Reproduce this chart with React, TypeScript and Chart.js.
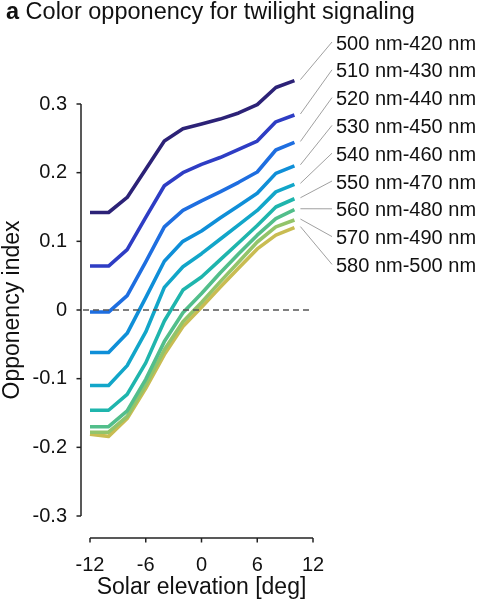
import React, { useEffect, useRef } from "react";
import { Chart, registerables } from "chart.js";

Chart.register(...registerables);

// ---------- data ----------
const elevations = [-12, -10, -8, -6, -4, -2, 0, 2, 4, 6, 8, 10];

const seriesLabels = [
  "500 nm-420 nm",
  "510 nm-430 nm",
  "520 nm-440 nm",
  "530 nm-450 nm",
  "540 nm-460 nm",
  "550 nm-470 nm",
  "560 nm-480 nm",
  "570 nm-490 nm",
  "580 nm-500 nm",
];

const s500_420 = [0.142, 0.142, 0.164, 0.205, 0.246, 0.264, 0.271, 0.278, 0.287, 0.299, 0.324, 0.334];
const s510_430 = [0.064, 0.064, 0.088, 0.135, 0.181, 0.2, 0.212, 0.222, 0.234, 0.246, 0.274, 0.284];
const s520_440 = [-0.003, -0.003, 0.021, 0.07, 0.121, 0.145, 0.159, 0.172, 0.186, 0.201, 0.233, 0.244];
const s530_450 = [-0.062, -0.062, -0.034, 0.018, 0.071, 0.1, 0.115, 0.134, 0.152, 0.17, 0.199, 0.21];
const s540_460 = [-0.11, -0.11, -0.081, -0.032, 0.033, 0.063, 0.082, 0.103, 0.124, 0.145, 0.172, 0.183];
const s550_470 = [-0.146, -0.146, -0.123, -0.077, -0.016, 0.029, 0.048, 0.073, 0.098, 0.123, 0.15, 0.162];
const s560_480 = [-0.17, -0.17, -0.147, -0.101, -0.046, -0.004, 0.024, 0.054, 0.082, 0.109, 0.133, 0.146];
const s570_490 = [-0.178, -0.178, -0.155, -0.109, -0.058, -0.017, 0.011, 0.041, 0.07, 0.099, 0.121, 0.131];
const s580_500 = [-0.181, -0.184, -0.158, -0.114, -0.065, -0.024, 0.004, 0.033, 0.061, 0.089, 0.109, 0.12];

const seriesValues = [
  s500_420, s510_430, s520_440, s530_450, s540_460,
  s550_470, s560_480, s570_490, s580_500,
];

const seriesColors = [
  "#2c2277", "#2e3dc4", "#1e6ee0", "#0f8fd8", "#12a6c9",
  "#1fb5ad", "#52be8b", "#93c46a", "#c9bc52",
];

const xTickValues = [-12, -6, 0, 6, 12];
const xTickLabels = ["-12", "-6", "0", "6", "12"];
const yTickValues = [0.3, 0.2, 0.1, 0, -0.1, -0.2, -0.3];
const yTickLabels = ["0.3", "0.2", "0.1", "0", "-0.1", "-0.2", "-0.3"];

const titleBold = "a";
const titleText = "Color opponency for twilight signaling";
const xAxisTitle = "Solar elevation [deg]";
const yAxisTitle = "Opponency index";

const FONT = "'Liberation Sans', Arial, Helvetica, sans-serif";

const overlayPlugin = {
  id: "overlay",
  afterDraw(chart: any) {
    const { ctx, chartArea, scales } = chart;
    const xs = scales.x;
    const ys = scales.y;
    ctx.save();

    // y axis line (offset left of the data area)
    const axX = chartArea.left - 9;
    ctx.strokeStyle = "#222";
    ctx.lineWidth = 1.5;
    ctx.beginPath();
    ctx.moveTo(axX, ys.getPixelForValue(yTickValues[0]));
    ctx.lineTo(axX, ys.getPixelForValue(yTickValues[yTickValues.length - 1]));
    ctx.stroke();
    yTickValues.forEach((v) => {
      const py = ys.getPixelForValue(v);
      ctx.beginPath();
      ctx.moveTo(axX - 4.5, py);
      ctx.lineTo(axX, py);
      ctx.stroke();
    });

    // x axis line (offset below the data area)
    const axY = chartArea.bottom + 22;
    ctx.beginPath();
    ctx.moveTo(xs.getPixelForValue(xTickValues[0]), axY);
    ctx.lineTo(xs.getPixelForValue(xTickValues[xTickValues.length - 1]), axY);
    ctx.stroke();
    xTickValues.forEach((v) => {
      const px = xs.getPixelForValue(v);
      ctx.beginPath();
      ctx.moveTo(px, axY);
      ctx.lineTo(px, axY + 4.5);
      ctx.stroke();
    });

    // dashed zero line
    ctx.strokeStyle = "#555";
    ctx.lineWidth = 1.3;
    ctx.setLineDash([6, 4]);
    ctx.beginPath();
    ctx.moveTo(axX + 2, ys.getPixelForValue(0));
    ctx.lineTo(xs.getPixelForValue(xTickValues[xTickValues.length - 1]), ys.getPixelForValue(0));
    ctx.stroke();
    ctx.setLineDash([]);

    // title
    ctx.fillStyle = "#111";
    ctx.textBaseline = "alphabetic";
    ctx.textAlign = "left";
    ctx.font = `bold 23.5px ${FONT}`;
    ctx.fillText(titleBold, 6, 19);
    const bw = ctx.measureText(titleBold + " ").width;
    ctx.font = `23.5px ${FONT}`;
    ctx.fillText(titleText, 6 + bw, 19);

    // series labels with leader lines
    const labelX = 336;
    const labelTop = 44;
    const labelStep = 27.8;
    const lastX = elevations[elevations.length - 1];
    ctx.font = `20px ${FONT}`;
    ctx.textBaseline = "middle";
    seriesLabels.forEach((lab, i) => {
      const ly = labelTop + i * labelStep;
      const vals = seriesValues[i];
      const sx = xs.getPixelForValue(lastX) + 6;
      const sy = ys.getPixelForValue(vals[vals.length - 1]) - 1;
      ctx.strokeStyle = "#888";
      ctx.lineWidth = 0.8;
      ctx.beginPath();
      ctx.moveTo(sx, sy);
      ctx.lineTo(labelX - 4, ly - 2);
      ctx.stroke();
      ctx.fillStyle = "#111";
      ctx.fillText(lab, labelX, ly);
    });

    ctx.restore();
  },
};

export default function App() {
  const canvasRef = useRef<HTMLCanvasElement | null>(null);

  useEffect(() => {
    document.body.style.margin = "0";
    const canvas = canvasRef.current;
    if (!canvas) return;
    const datasets = seriesValues.map((vals, i) => ({
      label: seriesLabels[i],
      data: elevations.map((x, j) => ({ x, y: vals[j] })),
      borderColor: seriesColors[i],
      backgroundColor: seriesColors[i],
      borderWidth: 3.6,
      pointRadius: 0,
      tension: 0,
      fill: false,
      clip: false as const,
      borderJoinStyle: "round" as const,
    }));

    const chart = new Chart(canvas, {
      type: "line",
      data: { datasets },
      options: {
        animation: false,
        responsive: false,
        devicePixelRatio: 1,
        layout: { padding: { top: 104, right: 167, bottom: 0, left: 0 } },
        plugins: {
          legend: { display: false },
          tooltip: { enabled: false },
          title: { display: false },
        },
        scales: {
          x: {
            type: "linear",
            min: -12,
            max: 12,
            grid: { display: false, drawTicks: false },
            border: { display: false },
            afterBuildTicks: (s: any) => {
              s.ticks = xTickValues.map((v) => ({ value: v }));
            },
            afterFit: (s: any) => {
              s.height = 84;
            },
            ticks: {
              padding: 37,
              color: "#111",
              font: { family: FONT, size: 20 },
              maxRotation: 0,
              autoSkip: false,
              callback: (v: any) => {
                const i = xTickValues.indexOf(Number(v));
                return i >= 0 ? xTickLabels[i] : "";
              },
            },
            title: {
              display: true,
              text: xAxisTitle,
              color: "#111",
              font: { family: FONT, size: 23, lineHeight: 1.1 },
              padding: { top: 0, bottom: 0 },
            },
          },
          y: {
            type: "linear",
            min: -0.3,
            max: 0.3,
            grid: { display: false, drawTicks: false },
            border: { display: false },
            afterBuildTicks: (s: any) => {
              s.ticks = yTickValues.map((v) => ({ value: v }));
            },
            afterFit: (s: any) => {
              s.width = 90;
            },
            ticks: {
              padding: 23,
              color: "#111",
              font: { family: FONT, size: 20 },
              autoSkip: false,
              callback: (v: any) => {
                const i = yTickValues.findIndex((t) => Math.abs(t - Number(v)) < 1e-9);
                return i >= 0 ? yTickLabels[i] : "";
              },
            },
            title: {
              display: true,
              text: yAxisTitle,
              color: "#111",
              font: { family: FONT, size: 23, lineHeight: 1.1 },
              padding: { top: 0, bottom: 0 },
            },
          },
        },
      },
      plugins: [overlayPlugin],
    });
    return () => chart.destroy();
  }, []);

  return (
    <div style={{ position: "absolute", left: 0, top: 0, width: 480, height: 600 }}>
      <canvas ref={canvasRef} width={480} height={600} style={{ display: "block" }} />
    </div>
  );
}
